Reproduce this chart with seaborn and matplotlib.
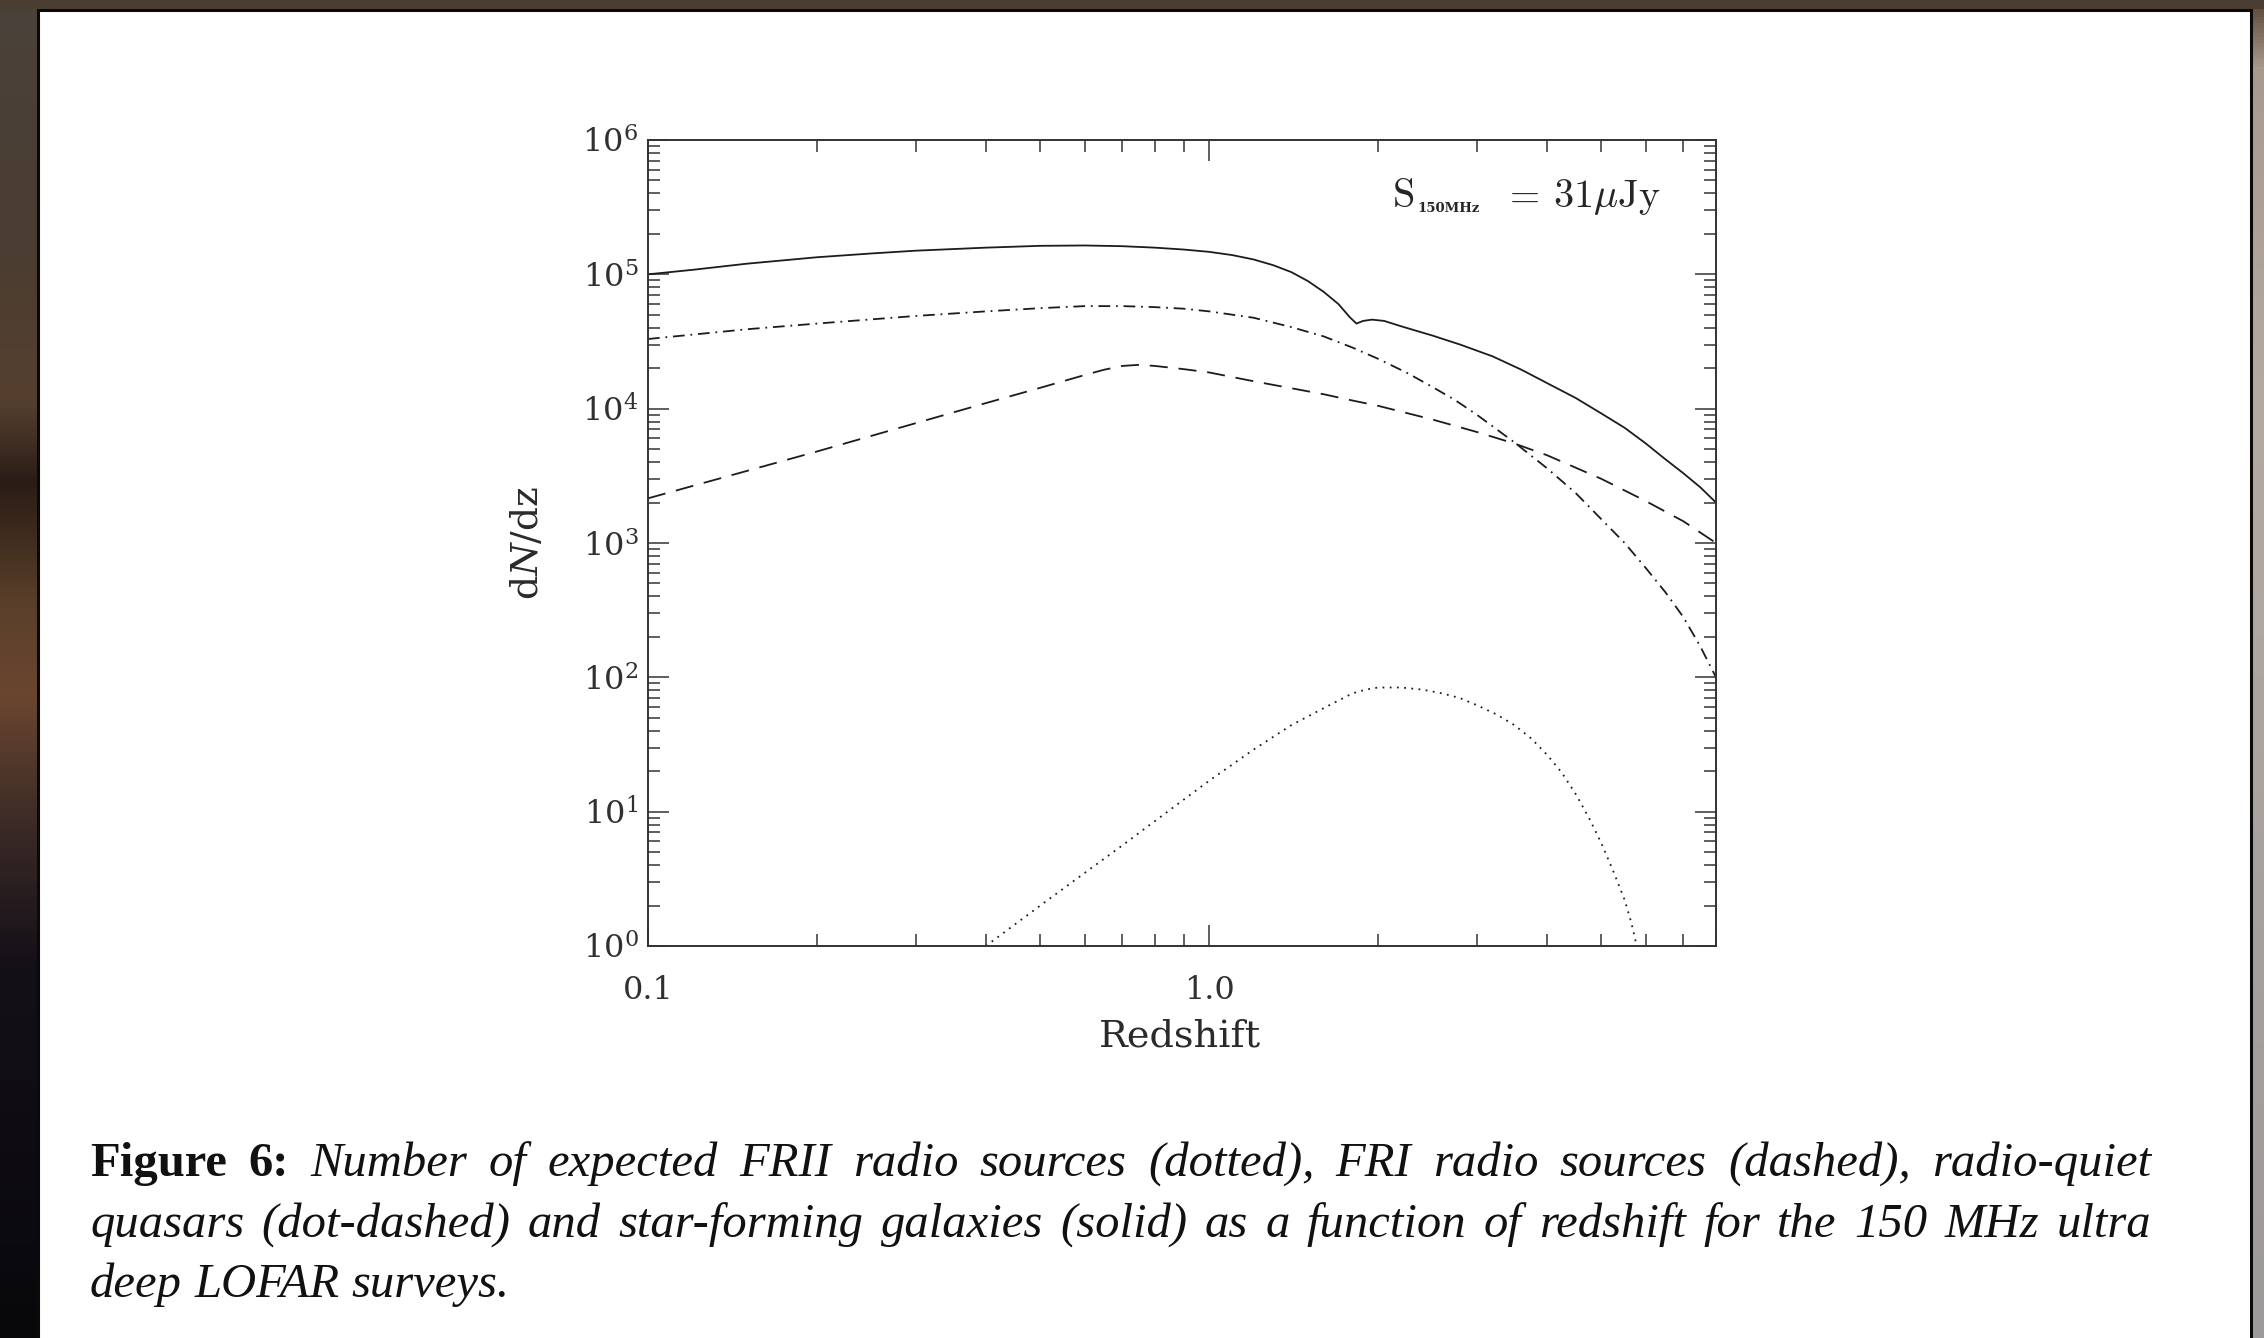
import numpy as np
import pandas as pd
import matplotlib
matplotlib.use("Agg")
import matplotlib.pyplot as plt
import matplotlib.transforms as mtransforms
from matplotlib.patches import Rectangle
from matplotlib.ticker import LogLocator, NullFormatter
import seaborn as sns

# ---------------------------------------------------------------------------
# dN/dz of the four source populations (150 MHz, S > 31 uJy)
# ---------------------------------------------------------------------------
z_sfg = [0.1, 0.12, 0.15, 0.2, 0.25, 0.3, 0.4, 0.5, 0.6, 0.7, 0.8, 0.9, 1.0,
         1.1, 1.2, 1.3, 1.4, 1.5, 1.6, 1.7, 1.78, 1.83, 1.88, 1.95, 2.05, 2.2,
         2.5, 2.8, 3.2, 3.6, 4.0, 4.5, 5.0, 5.5, 6.0, 6.5, 7.0, 7.5, 8.0]
n_sfg = [1.00e5, 1.08e5, 1.20e5, 1.34e5, 1.43e5, 1.50e5, 1.58e5, 1.63e5,
         1.64e5, 1.62e5, 1.58e5, 1.53e5, 1.47e5, 1.39e5, 1.29e5, 1.17e5,
         1.04e5, 8.9e4, 7.4e4, 6.0e4, 4.8e4, 4.3e4, 4.5e4, 4.6e4, 4.5e4,
         4.1e4, 3.5e4, 3.0e4, 2.45e4, 1.95e4, 1.55e4, 1.2e4, 9.2e3, 7.2e3,
         5.5e3, 4.2e3, 3.3e3, 2.6e3, 2.0e3]

z_rqq = [0.1, 0.15, 0.2, 0.3, 0.4, 0.5, 0.6, 0.7, 0.8, 0.9, 1.0, 1.2, 1.4,
         1.6, 1.8, 2.0, 2.25, 2.5, 2.75, 3.0, 3.5, 4.0, 4.5, 5.0, 5.5, 6.0,
         6.5, 7.0, 7.5, 8.0]
n_rqq = [3.3e4, 3.9e4, 4.3e4, 4.9e4, 5.3e4, 5.6e4, 5.8e4, 5.8e4, 5.7e4,
         5.55e4, 5.3e4, 4.75e4, 4.05e4, 3.45e4, 2.85e4, 2.35e4, 1.85e4,
         1.45e4, 1.15e4, 9.0e3, 5.6e3, 3.6e3, 2.35e3, 1.5e3, 1.0e3, 6.5e2,
         4.3e2, 2.8e2, 1.7e2, 1.0e2]

z_fri = [0.1, 0.2, 0.3, 0.4, 0.5, 0.6, 0.65, 0.7, 0.75, 0.8, 0.9, 1.0, 1.2,
         1.4, 1.6, 1.8, 2.0, 2.5, 3.0, 3.5, 4.0, 5.0, 6.0, 7.0, 8.0]
n_fri = [2.15e3, 4.8e3, 7.8e3, 1.1e4, 1.43e4, 1.78e4, 1.95e4, 2.08e4,
         2.12e4, 2.08e4, 1.97e4, 1.86e4, 1.6e4, 1.42e4, 1.28e4, 1.15e4,
         1.05e4, 8.3e3, 6.7e3, 5.5e3, 4.5e3, 3.0e3, 2.05e3, 1.45e3, 1.0e3]

z_frii = [0.4, 0.5, 0.6, 0.7, 0.8, 1.0, 1.2, 1.4, 1.6, 1.8, 1.9, 2.0, 2.2,
          2.4, 2.6, 2.8, 3.0, 3.25, 3.5, 3.75, 4.0, 4.25, 4.5, 4.75, 5.0,
          5.25, 5.5, 5.65, 5.78]
n_frii = [1.0, 2.0, 3.5, 5.6, 8.5, 17, 29, 44, 59, 76, 81, 84, 84, 81, 76,
          70, 62, 53, 44, 35, 26.5, 19.5, 13.5, 9.0, 5.8, 3.6, 2.2, 1.5, 1.0]

populations = ["SFG", "RQQ", "FRI", "FRII"]

x_major_ticks = [0.1, 1.0]
x_tick_labels = ["0.1", "1.0"]
y_major_ticks = [1e0, 1e1, 1e2, 1e3, 1e4, 1e5, 1e6]
y_tick_labels = [r"$10^{0}$", r"$10^{1}$", r"$10^{2}$", r"$10^{3}$",
                 r"$10^{4}$", r"$10^{5}$", r"$10^{6}$"]

x_label = "Redshift"
y_label = r"d$N$/dz"

caption_line1 = ("Figure 6: Number of expected FRII radio sources (dotted), "
                 "FRI radio sources (dashed), radio-quiet")
caption_line2 = ("quasars (dot-dashed) and star-forming galaxies (solid) as a "
                 "function of redshift for the 150 MHz ultra")
caption_line3 = "deep LOFAR surveys."

df = pd.concat([
    pd.DataFrame({"z": z_sfg, "N": n_sfg, "population": "SFG"}),
    pd.DataFrame({"z": z_rqq, "N": n_rqq, "population": "RQQ"}),
    pd.DataFrame({"z": z_fri, "N": n_fri, "population": "FRI"}),
    pd.DataFrame({"z": z_frii, "N": n_frii, "population": "FRII"}),
], ignore_index=True)

# ---------------------------------------------------------------------------
sns.set_theme(style="white")
plt.rcParams["font.family"] = ["DejaVu Serif", "DejaVu Sans"]
plt.rcParams["mathtext.fontset"] = "dejavuserif"

W, H, DPI = 2264, 1338, 100
fig = plt.figure(figsize=(W / DPI, H / DPI), dpi=DPI)
fig.patch.set_facecolor("#433830")

# desktop backdrop around the page
bg = fig.add_axes([0, 0, 1, 1], zorder=-10)
bg.set_xlim(0, W)
bg.set_ylim(H, 0)
bg.axis("off")


def vertical_gradient(stops, colors, n=400):
    t = np.linspace(0, 1, n)
    rgb = np.array([matplotlib.colors.to_rgb(c) for c in colors])
    cols = np.stack([np.interp(t, stops, rgb[:, k]) for k in range(3)], axis=1)
    return cols[:, None, :]


left_strip = vertical_gradient([0.0, 0.18, 0.3, 0.36, 0.45, 0.52, 0.62, 0.72, 1.0],
                               ["#4a423b", "#4b3d32", "#55402f", "#2a1d16",
                                "#5a3f2a", "#6a4630", "#3a2a26", "#141018", "#08080b"])
bg.imshow(left_strip, extent=[0, 38, H, 0], aspect="auto", zorder=0)
right_strip = vertical_gradient([0.0, 0.05, 0.3, 1.0],
                                ["#5a4636", "#a89a8e", "#b4aaa2", "#9c9a9a"])
bg.imshow(right_strip, extent=[2252, W, H, 0], aspect="auto", zorder=0)
bg.add_patch(Rectangle((0, 0), W, 9, facecolor="#4a3d32", edgecolor="none", zorder=1))
bg.add_patch(Rectangle((38, 9.5), 2213, H + 20, facecolor="white",
                       edgecolor="#0a0a0a", linewidth=2.2, zorder=2))

# ---------------------------------------------------------------------------
ax = fig.add_axes([648 / W, 1 - 946 / H, 1068 / W, 806 / H])
ax.set_facecolor("white")

line_color = "#1c1c1c"
dash_map = {"SFG": "", "RQQ": (6.5, 3.2, 1.0, 3.2), "FRI": (10, 6), "FRII": (1, 3)}
sns.lineplot(data=df, x="z", y="N", style="population", style_order=populations,
             dashes=dash_map, color=line_color, linewidth=1.3, estimator=None,
             sort=False, legend=False, ax=ax)

ax.set_xscale("log")
ax.set_yscale("log")
ax.set_xlim(0.1, 8.0)
ax.set_ylim(1.0, 1e6)

ax.set_xticks(x_major_ticks, labels=x_tick_labels)
ax.set_yticks(y_major_ticks, labels=y_tick_labels)
ax.xaxis.set_minor_locator(LogLocator(base=10, subs=np.arange(2, 10), numticks=50))
ax.yaxis.set_minor_locator(LogLocator(base=10, subs=np.arange(2, 10), numticks=50))
ax.xaxis.set_minor_formatter(NullFormatter())
ax.yaxis.set_minor_formatter(NullFormatter())

tick_color = "#333333"
ax.tick_params(which="both", direction="in", bottom=True, left=True, top=True,
               right=True, color=tick_color, width=1.1, labelcolor="#303030")
ax.tick_params(which="major", length=15)
ax.tick_params(which="minor", length=8.5)
ax.tick_params(axis="x", which="major", pad=21, labelsize=23)
ax.tick_params(axis="y", which="major", pad=7, labelsize=23)
for sp in ax.spines.values():
    sp.set_visible(True)
    sp.set_color(tick_color)
    sp.set_linewidth(1.4)

ax.set_xlabel(x_label, fontsize=27.5, color="#2a2a2a")
ax.xaxis.set_label_coords(0.498, -0.090)
ax.set_ylabel(y_label, fontsize=27, color="#2a2a2a")
ax.yaxis.set_label_coords(-0.0955, 0.5)


def ax_frac(px, py):
    return (px - 648) / 1068, (946 - py) / 806


txt_color = "#262626"
ax.text(*ax_frac(1392, 207), r"$\mathrm{S}$", transform=ax.transAxes,
        fontsize=29, math_fontfamily="cm", ha="left", va="baseline", color=txt_color)
ax.text(*ax_frac(1417, 212), "150MHz", transform=ax.transAxes, fontsize=9.5,
        fontweight="bold", ha="left", va="baseline", color=txt_color)
ax.text(*ax_frac(1503, 207), r"$=$", transform=ax.transAxes, fontsize=28,
        math_fontfamily="cm", ha="left", va="baseline", color=txt_color)
ax.text(*ax_frac(1553, 207), r"$31\mu\mathrm{Jy}$", transform=ax.transAxes,
        fontsize=29, math_fontfamily="cm", ha="left", va="baseline", color=txt_color)

# ---------------------------------------------------------------------------
# caption, set as a justified paragraph
cap_family = "Liberation Serif"
cap_left, cap_right = 90, 2151
cap_baselines = [1176, 1237, 1297]
renderer = fig.canvas.get_renderer()
ident = mtransforms.IdentityTransform()


def make_words(line, bold_words=0):
    items = []
    for i, w in enumerate(line.split(" ")):
        bold = i < bold_words
        t = fig.text(0, 0, w, transform=ident, family=cap_family,
                     style="normal" if bold else "italic",
                     weight="bold" if bold else "normal",
                     ha="left", va="baseline", color="#111111")
        items.append(t)
    return items


lines = [make_words(caption_line1, 2), make_words(caption_line2), make_words(caption_line3)]

size = 35.0
while size > 20:
    ok = True
    for words in lines[:2]:
        for t in words:
            t.set_fontsize(size)
        widths = [t.get_window_extent(renderer).width for t in words]
        min_gap = 0.3 * size * DPI / 72
        if sum(widths) + min_gap * (len(words) - 1) > cap_right - cap_left:
            ok = False
    if ok:
        break
    size -= 0.5

for k, words in enumerate(lines):
    for t in words:
        t.set_fontsize(size)
    widths = [t.get_window_extent(renderer).width for t in words]
    if k < 2:
        gap = (cap_right - cap_left - sum(widths)) / (len(words) - 1)
    else:
        gap = 0.25 * size * DPI / 72
    x = cap_left
    y = H - cap_baselines[k]
    for t, wd in zip(words, widths):
        t.set_position((x, y))
        x += wd + gap

fig.savefig("out.png", dpi=DPI, facecolor=fig.get_facecolor())
